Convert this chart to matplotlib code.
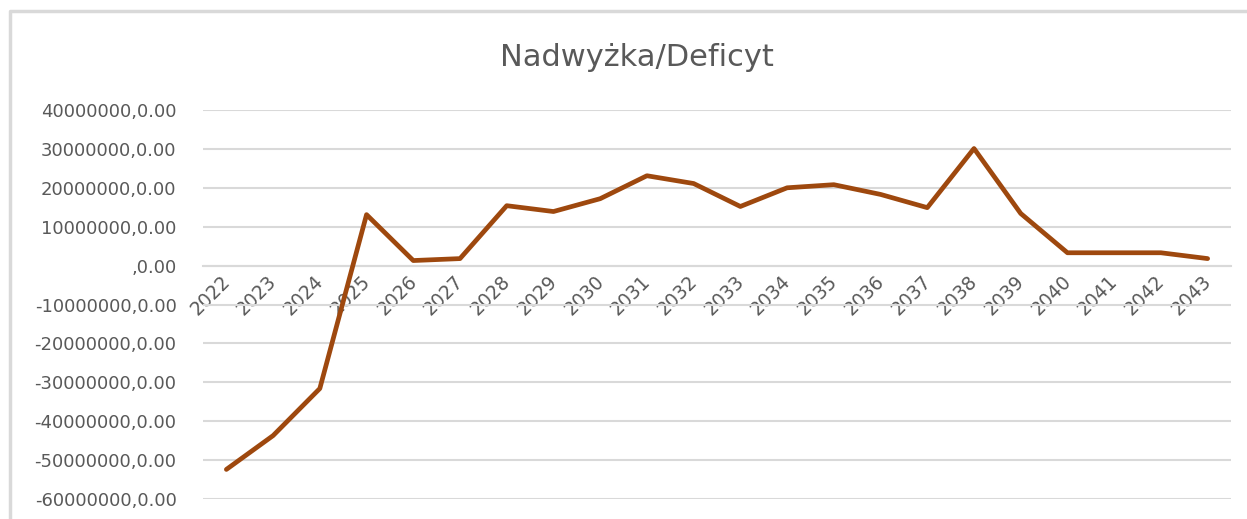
import matplotlib
matplotlib.use("Agg")
import matplotlib.pyplot as plt
import matplotlib.transforms as mtransforms
from matplotlib.lines import Line2D
from matplotlib.ticker import FuncFormatter, MultipleLocator

years = [str(y) for y in range(2022, 2044)]
values = [-52.4, -43.7, -31.6, 13.1, 1.3, 1.8, 15.4, 13.9, 17.2, 23.1, 21.1,
          15.2, 20.0, 20.8, 18.3, 14.9, 30.1, 13.4, 3.3, 3.3, 3.3, 1.8]
values = [v * 1e6 for v in values]

grey = "#595959"
grid = "#D9D9D9"
line_col = "#9E480E"


def fmt(v, pos):
    v = int(round(v))
    if v == 0:
        return ",0.00"
    return f"{v},0.00"


fig = plt.figure(figsize=(12.47, 5.19), dpi=100)
ax = fig.add_axes([203 / 1247, 1 - 499 / 519, (1231 - 203) / 1247, 389 / 519])

x = list(range(len(years)))
ax.plot(x, values, color=line_col, lw=3.4, solid_capstyle="round", zorder=3)

ax.set_xlim(-0.5, len(years) - 0.5)
ax.set_ylim(-60e6, 40e6)
ax.yaxis.set_major_locator(MultipleLocator(10e6))
ax.yaxis.set_major_formatter(FuncFormatter(fmt))
ax.grid(axis="y", color=grid, lw=1.5)
ax.set_axisbelow(True)

for s in ["top", "right", "left"]:
    ax.spines[s].set_visible(False)
ax.spines["bottom"].set_position(("data", 0))
ax.spines["bottom"].set_color(grid)
ax.spines["bottom"].set_linewidth(1.5)

ax.set_xticks(x)
ax.set_xticklabels(years, rotation=45, ha="right", rotation_mode="anchor")
ax.tick_params(axis="x", length=0, pad=4, labelsize=13.5, labelcolor=grey)
ax.tick_params(axis="y", length=0, pad=19, labelsize=13, labelcolor=grey)

shift = mtransforms.ScaledTranslation(-6 / 100, -1 / 100, fig.dpi_scale_trans)
for lab in ax.get_xticklabels():
    lab.set_transform(lab.get_transform() + shift)

fig.text(0.511, 1 - 58 / 519, "Nadwyżka/Deficyt", ha="center", va="center",
         fontsize=22, color=grey)

# chart frame
fig.add_artist(Line2D([9.5 / 1247, 9.5 / 1247, 1.0], [0.0, 1 - 11 / 519, 1 - 11 / 519],
                      transform=fig.transFigure, color=grid, lw=2.5))

fig.savefig("out.png", dpi=100)
